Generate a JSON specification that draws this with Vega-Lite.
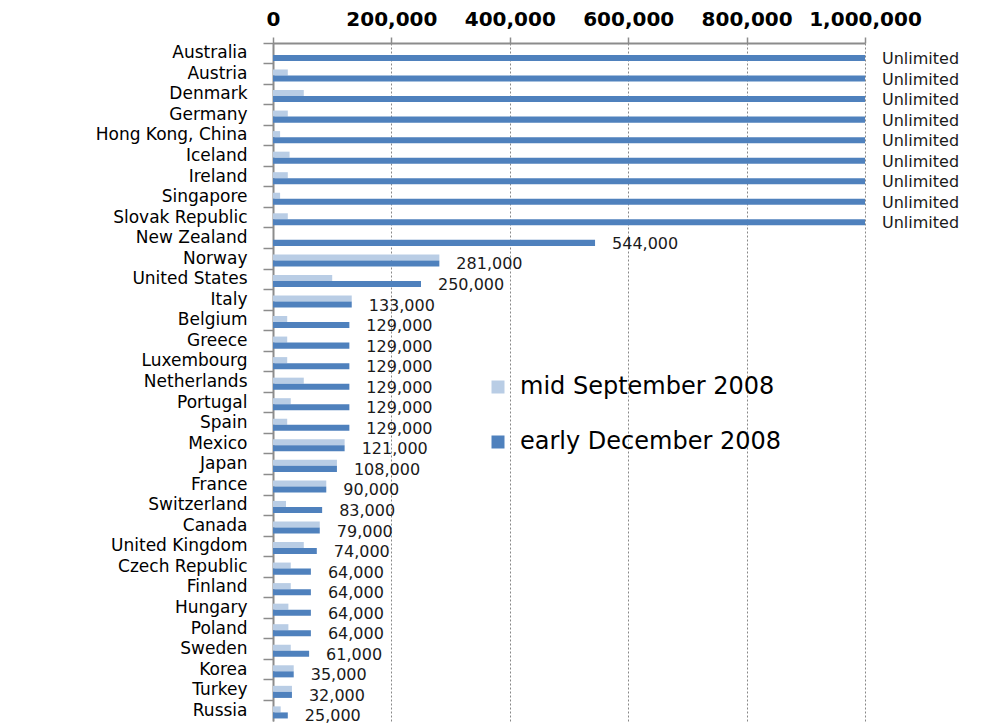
{
  "$schema": "https://vega.github.io/schema/vega-lite/v6.json",
  "autosize": {"type": "none"},
  "padding": {"left": 273, "top": 43, "right": 116, "bottom": 3},
  "width": 592,
  "height": 678,
  "background": "white",
  "config": {"view": {"stroke": null}},
  "data": {
    "values": [
      {"country": "Australia", "period": "mid September 2008", "value": 0, "label": ""},
      {"country": "Australia", "period": "early December 2008", "value": 1000000, "label": "Unlimited"},
      {"country": "Austria", "period": "mid September 2008", "value": 25000, "label": ""},
      {"country": "Austria", "period": "early December 2008", "value": 1000000, "label": "Unlimited"},
      {"country": "Denmark", "period": "mid September 2008", "value": 52000, "label": ""},
      {"country": "Denmark", "period": "early December 2008", "value": 1000000, "label": "Unlimited"},
      {"country": "Germany", "period": "mid September 2008", "value": 25000, "label": ""},
      {"country": "Germany", "period": "early December 2008", "value": 1000000, "label": "Unlimited"},
      {"country": "Hong Kong, China", "period": "mid September 2008", "value": 12000, "label": ""},
      {"country": "Hong Kong, China", "period": "early December 2008", "value": 1000000, "label": "Unlimited"},
      {"country": "Iceland", "period": "mid September 2008", "value": 28000, "label": ""},
      {"country": "Iceland", "period": "early December 2008", "value": 1000000, "label": "Unlimited"},
      {"country": "Ireland", "period": "mid September 2008", "value": 25000, "label": ""},
      {"country": "Ireland", "period": "early December 2008", "value": 1000000, "label": "Unlimited"},
      {"country": "Singapore", "period": "mid September 2008", "value": 12000, "label": ""},
      {"country": "Singapore", "period": "early December 2008", "value": 1000000, "label": "Unlimited"},
      {"country": "Slovak Republic", "period": "mid September 2008", "value": 25000, "label": ""},
      {"country": "Slovak Republic", "period": "early December 2008", "value": 1000000, "label": "Unlimited"},
      {"country": "New Zealand", "period": "mid September 2008", "value": 0, "label": ""},
      {"country": "New Zealand", "period": "early December 2008", "value": 544000, "label": "544,000"},
      {"country": "Norway", "period": "mid September 2008", "value": 281000, "label": ""},
      {"country": "Norway", "period": "early December 2008", "value": 281000, "label": "281,000"},
      {"country": "United States", "period": "mid September 2008", "value": 100000, "label": ""},
      {"country": "United States", "period": "early December 2008", "value": 250000, "label": "250,000"},
      {"country": "Italy", "period": "mid September 2008", "value": 133000, "label": ""},
      {"country": "Italy", "period": "early December 2008", "value": 133000, "label": "133,000"},
      {"country": "Belgium", "period": "mid September 2008", "value": 24000, "label": ""},
      {"country": "Belgium", "period": "early December 2008", "value": 129000, "label": "129,000"},
      {"country": "Greece", "period": "mid September 2008", "value": 24000, "label": ""},
      {"country": "Greece", "period": "early December 2008", "value": 129000, "label": "129,000"},
      {"country": "Luxembourg", "period": "mid September 2008", "value": 24000, "label": ""},
      {"country": "Luxembourg", "period": "early December 2008", "value": 129000, "label": "129,000"},
      {"country": "Netherlands", "period": "mid September 2008", "value": 52000, "label": ""},
      {"country": "Netherlands", "period": "early December 2008", "value": 129000, "label": "129,000"},
      {"country": "Portugal", "period": "mid September 2008", "value": 30000, "label": ""},
      {"country": "Portugal", "period": "early December 2008", "value": 129000, "label": "129,000"},
      {"country": "Spain", "period": "mid September 2008", "value": 24000, "label": ""},
      {"country": "Spain", "period": "early December 2008", "value": 129000, "label": "129,000"},
      {"country": "Mexico", "period": "mid September 2008", "value": 121000, "label": ""},
      {"country": "Mexico", "period": "early December 2008", "value": 121000, "label": "121,000"},
      {"country": "Japan", "period": "mid September 2008", "value": 108000, "label": ""},
      {"country": "Japan", "period": "early December 2008", "value": 108000, "label": "108,000"},
      {"country": "France", "period": "mid September 2008", "value": 90000, "label": ""},
      {"country": "France", "period": "early December 2008", "value": 90000, "label": "90,000"},
      {"country": "Switzerland", "period": "mid September 2008", "value": 22000, "label": ""},
      {"country": "Switzerland", "period": "early December 2008", "value": 83000, "label": "83,000"},
      {"country": "Canada", "period": "mid September 2008", "value": 79000, "label": ""},
      {"country": "Canada", "period": "early December 2008", "value": 79000, "label": "79,000"},
      {"country": "United Kingdom", "period": "mid September 2008", "value": 52000, "label": ""},
      {"country": "United Kingdom", "period": "early December 2008", "value": 74000, "label": "74,000"},
      {"country": "Czech Republic", "period": "mid September 2008", "value": 30000, "label": ""},
      {"country": "Czech Republic", "period": "early December 2008", "value": 64000, "label": "64,000"},
      {"country": "Finland", "period": "mid September 2008", "value": 30000, "label": ""},
      {"country": "Finland", "period": "early December 2008", "value": 64000, "label": "64,000"},
      {"country": "Hungary", "period": "mid September 2008", "value": 26000, "label": ""},
      {"country": "Hungary", "period": "early December 2008", "value": 64000, "label": "64,000"},
      {"country": "Poland", "period": "mid September 2008", "value": 26000, "label": ""},
      {"country": "Poland", "period": "early December 2008", "value": 64000, "label": "64,000"},
      {"country": "Sweden", "period": "mid September 2008", "value": 30000, "label": ""},
      {"country": "Sweden", "period": "early December 2008", "value": 61000, "label": "61,000"},
      {"country": "Korea", "period": "mid September 2008", "value": 35000, "label": ""},
      {"country": "Korea", "period": "early December 2008", "value": 35000, "label": "35,000"},
      {"country": "Turkey", "period": "mid September 2008", "value": 32000, "label": ""},
      {"country": "Turkey", "period": "early December 2008", "value": 32000, "label": "32,000"},
      {"country": "Russia", "period": "mid September 2008", "value": 13000, "label": ""},
      {"country": "Russia", "period": "early December 2008", "value": 25000, "label": "25,000"}
    ]
  },
  "encoding": {
    "y": {
      "field": "country",
      "type": "nominal",
      "sort": null,
      "title": null,
      "scale": {"paddingInner": 0, "paddingOuter": 0},
      "axis": {
        "bandPosition": 0,
        "domainColor": "#8c8c8c",
        "domainWidth": 2,
        "tickColor": "#8c8c8c",
        "tickSize": 10,
        "tickWidth": 1.5,
        "labelPadding": 16,
        "labelFont": "DejaVu Sans",
        "labelFontSize": 17,
        "labelBaseline": "middle",
        "labelColor": "#000000",
        "labelLimit": 300,
        "grid": false
      }
    },
    "x": {
      "field": "value",
      "type": "quantitative",
      "title": null,
      "scale": {"domain": [0, 1000000], "nice": false},
      "axis": {
        "orient": "top",
        "values": [0, 200000, 400000, 600000, 800000, 1000000],
        "format": ",d",
        "domainColor": "#8c8c8c",
        "domainWidth": 2,
        "tickColor": "#8c8c8c",
        "tickSize": 6,
        "tickWidth": 1.5,
        "labelPadding": 12,
        "labelBaseline": "alphabetic",
        "labelFont": "DejaVu Sans",
        "labelFontWeight": "bold",
        "labelFontSize": 20,
        "labelColor": "#000000",
        "labelFlush": false,
        "labelOverlap": false,
        "grid": true,
        "gridColor": "#888888",
        "gridDash": [2, 2],
        "gridWidth": 1
      }
    },
    "yOffset": {
      "field": "period",
      "type": "nominal",
      "sort": ["mid September 2008", "early December 2008"],
      "scale": {"paddingInner": 0, "paddingOuter": 0.7, "align": 0.7}
    }
  },
  "layer": [
    {
      "mark": {"type": "bar"},
      "encoding": {
        "color": {
          "field": "period",
          "type": "nominal",
          "sort": ["mid September 2008", "early December 2008"],
          "scale": {
            "domain": ["mid September 2008", "early December 2008"],
            "range": ["#B9CDE5", "#4F81BD"]
          },
          "legend": {
            "title": null,
            "orient": "none",
            "legendX": 213,
            "legendY": 332,
            "padding": 0,
            "symbolType": "square",
            "symbolSize": 169,
            "symbolStrokeWidth": 0,
            "labelFont": "DejaVu Sans",
            "labelFontSize": 24,
            "labelColor": "#000000",
            "labelOffset": 10,
            "labelLimit": 500,
            "rowPadding": 31
          }
        }
      }
    },
    {
      "transform": [{"filter": "datum.period === 'early December 2008'"}],
      "mark": {
        "type": "text",
        "align": "left",
        "baseline": "middle",
        "dx": 17,
        "dy": 1,
        "font": "DejaVu Sans",
        "fontSize": 16,
        "color": "#1a1a1a"
      },
      "encoding": {
        "text": {"field": "label", "type": "nominal"}
      }
    }
  ]
}
